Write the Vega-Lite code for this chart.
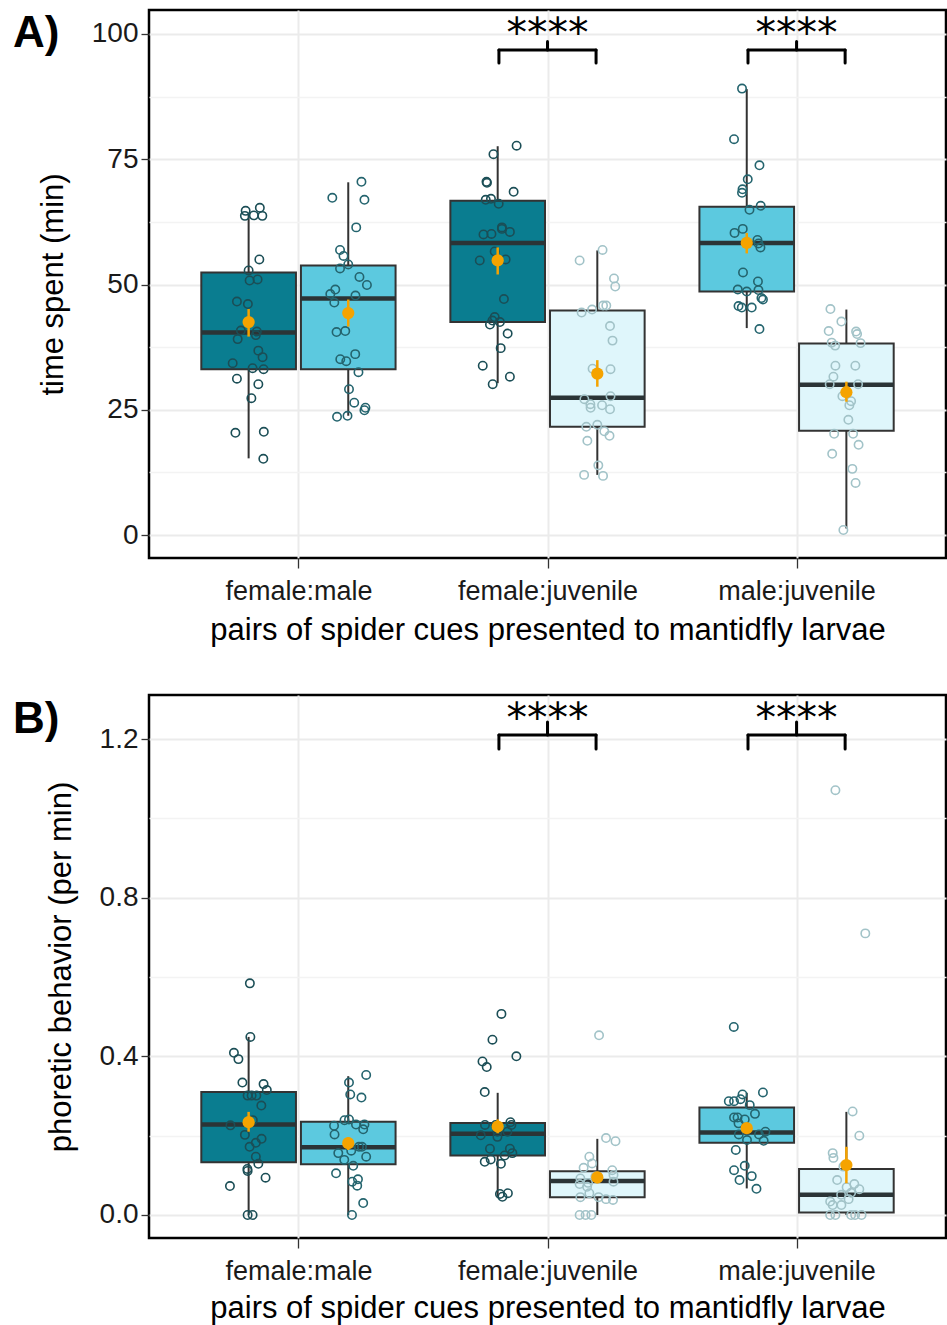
{
"$schema": "https://vega.github.io/schema/vega-lite/v6.json",
"padding": {"left": 11, "top": 8, "right": 0, "bottom": 0},
"spacing": 46,
"config": {
  "font": "Liberation Sans",
  "view": {"stroke": "#000000", "strokeWidth": 2.5},
  "axis": {"labelFont": "Liberation Sans", "labelFontSize": 27, "labelColor": "#1a1a1a", "labelLimit": 0, "titleFont": "Liberation Sans", "titleFontSize": 31, "titleFontWeight": "normal", "titleColor": "#000000", "tickColor": "#333333", "tickWidth": 1.3, "domain": false, "labelFlush": false, "gridColor": "#EBEBEB"}
},
"datasets": {
  "boxes": [
    {"panel":"A","pair":"female:male","cue":"female","side":"left","lo":15.3,"q1":33.1,"med":40.4,"q3":52.4,"hi":64.2},
    {"panel":"A","pair":"female:male","cue":"male","side":"right","lo":23.8,"q1":33.1,"med":47.2,"q3":53.8,"hi":70.4},
    {"panel":"A","pair":"female:juvenile","cue":"female","side":"left","lo":30.3,"q1":42.5,"med":58.3,"q3":66.7,"hi":77.6},
    {"panel":"A","pair":"female:juvenile","cue":"juvenile","side":"right","lo":12.0,"q1":21.6,"med":27.4,"q3":44.8,"hi":56.8},
    {"panel":"A","pair":"male:juvenile","cue":"male","side":"left","lo":41.3,"q1":48.6,"med":58.3,"q3":65.5,"hi":89.0},
    {"panel":"A","pair":"male:juvenile","cue":"juvenile","side":"right","lo":1.3,"q1":20.8,"med":30.0,"q3":38.2,"hi":45.0},
    {"panel":"B","pair":"female:male","cue":"female","side":"left","lo":0.0,"q1":0.133,"med":0.228,"q3":0.310,"hi":0.449},
    {"panel":"B","pair":"female:male","cue":"male","side":"right","lo":0.0,"q1":0.128,"med":0.171,"q3":0.235,"hi":0.350},
    {"panel":"B","pair":"female:juvenile","cue":"female","side":"left","lo":0.046,"q1":0.150,"med":0.205,"q3":0.232,"hi":0.308},
    {"panel":"B","pair":"female:juvenile","cue":"juvenile","side":"right","lo":0.0,"q1":0.045,"med":0.086,"q3":0.110,"hi":0.192},
    {"panel":"B","pair":"male:juvenile","cue":"male","side":"left","lo":0.067,"q1":0.182,"med":0.208,"q3":0.271,"hi":0.308},
    {"panel":"B","pair":"male:juvenile","cue":"juvenile","side":"right","lo":0.0,"q1":0.006,"med":0.051,"q3":0.116,"hi":0.260}
  ],
  "means": [
    {"panel":"A","pair":"female:male","cue":"female","side":"left","mean":42.5,"lo":39.6,"hi":45.1},
    {"panel":"A","pair":"female:male","cue":"male","side":"right","mean":44.3,"lo":41.6,"hi":47.0},
    {"panel":"A","pair":"female:juvenile","cue":"female","side":"left","mean":54.8,"lo":52.0,"hi":57.4},
    {"panel":"A","pair":"female:juvenile","cue":"juvenile","side":"right","mean":32.2,"lo":29.6,"hi":34.9},
    {"panel":"A","pair":"male:juvenile","cue":"male","side":"left","mean":58.3,"lo":56.2,"hi":60.3},
    {"panel":"A","pair":"male:juvenile","cue":"juvenile","side":"right","mean":28.5,"lo":26.6,"hi":30.6},
    {"panel":"B","pair":"female:male","cue":"female","side":"left","mean":0.234,"lo":0.210,"hi":0.260},
    {"panel":"B","pair":"female:male","cue":"male","side":"right","mean":0.181,"lo":0.164,"hi":0.196},
    {"panel":"B","pair":"female:juvenile","cue":"female","side":"left","mean":0.223,"lo":0.206,"hi":0.241},
    {"panel":"B","pair":"female:juvenile","cue":"juvenile","side":"right","mean":0.095,"lo":0.080,"hi":0.109},
    {"panel":"B","pair":"male:juvenile","cue":"male","side":"left","mean":0.219,"lo":0.206,"hi":0.231},
    {"panel":"B","pair":"male:juvenile","cue":"juvenile","side":"right","mean":0.126,"lo":0.080,"hi":0.172}
  ],
  "sig": [
    {"panel":"A","pair":"female:juvenile","label":"****","y_bar":96.8,"y_tip":94.2,"y_peak":98.5,"y_label":97.4},
    {"panel":"A","pair":"male:juvenile","label":"****","y_bar":96.8,"y_tip":94.2,"y_peak":98.5,"y_label":97.4},
    {"panel":"B","pair":"female:juvenile","label":"****","y_bar":1.210,"y_tip":1.175,"y_peak":1.243,"y_label":1.217},
    {"panel":"B","pair":"male:juvenile","label":"****","y_bar":1.210,"y_tip":1.175,"y_peak":1.243,"y_label":1.217}
  ],
  "tags": [
    {"panel":"A","label":"A)"},
    {"panel":"B","label":"B)"}
  ],
  "points": [
    {"panel":"A","pair":"female:male","cue":"female","side":"left","value":64.7,"jitter":-0.012},
    {"panel":"A","pair":"female:male","cue":"female","side":"left","value":63.7,"jitter":-0.015},
    {"panel":"A","pair":"female:male","cue":"female","side":"left","value":63.8,"jitter":0.021},
    {"panel":"A","pair":"female:male","cue":"female","side":"left","value":65.3,"jitter":0.045},
    {"panel":"A","pair":"female:male","cue":"female","side":"left","value":63.7,"jitter":0.055},
    {"panel":"A","pair":"female:male","cue":"female","side":"left","value":55.0,"jitter":0.043},
    {"panel":"A","pair":"female:male","cue":"female","side":"left","value":52.8,"jitter":0.0},
    {"panel":"A","pair":"female:male","cue":"female","side":"left","value":50.8,"jitter":0.004},
    {"panel":"A","pair":"female:male","cue":"female","side":"left","value":51.0,"jitter":0.036},
    {"panel":"A","pair":"female:male","cue":"female","side":"left","value":46.6,"jitter":-0.047},
    {"panel":"A","pair":"female:male","cue":"female","side":"left","value":46.1,"jitter":-0.003},
    {"panel":"A","pair":"female:male","cue":"female","side":"left","value":40.8,"jitter":-0.031},
    {"panel":"A","pair":"female:male","cue":"female","side":"left","value":39.1,"jitter":-0.044},
    {"panel":"A","pair":"female:male","cue":"female","side":"left","value":40.6,"jitter":0.033},
    {"panel":"A","pair":"female:male","cue":"female","side":"left","value":39.9,"jitter":0.029},
    {"panel":"A","pair":"female:male","cue":"female","side":"left","value":36.8,"jitter":0.039},
    {"panel":"A","pair":"female:male","cue":"female","side":"left","value":35.5,"jitter":0.056},
    {"panel":"A","pair":"female:male","cue":"female","side":"left","value":34.3,"jitter":-0.064},
    {"panel":"A","pair":"female:male","cue":"female","side":"left","value":33.3,"jitter":0.016},
    {"panel":"A","pair":"female:male","cue":"female","side":"left","value":33.1,"jitter":0.06},
    {"panel":"A","pair":"female:male","cue":"female","side":"left","value":31.2,"jitter":-0.047},
    {"panel":"A","pair":"female:male","cue":"female","side":"left","value":30.1,"jitter":0.039},
    {"panel":"A","pair":"female:male","cue":"female","side":"left","value":27.3,"jitter":0.011},
    {"panel":"A","pair":"female:male","cue":"female","side":"left","value":20.4,"jitter":-0.053},
    {"panel":"A","pair":"female:male","cue":"female","side":"left","value":20.6,"jitter":0.061},
    {"panel":"A","pair":"female:male","cue":"female","side":"left","value":15.2,"jitter":0.059},
    {"panel":"A","pair":"female:male","cue":"male","side":"right","value":70.5,"jitter":0.053},
    {"panel":"A","pair":"female:male","cue":"male","side":"right","value":67.3,"jitter":-0.064},
    {"panel":"A","pair":"female:male","cue":"male","side":"right","value":66.9,"jitter":0.065},
    {"panel":"A","pair":"female:male","cue":"male","side":"right","value":61.4,"jitter":0.032},
    {"panel":"A","pair":"female:male","cue":"male","side":"right","value":56.9,"jitter":-0.033},
    {"panel":"A","pair":"female:male","cue":"male","side":"right","value":55.7,"jitter":-0.019},
    {"panel":"A","pair":"female:male","cue":"male","side":"right","value":54.0,"jitter":0.0},
    {"panel":"A","pair":"female:male","cue":"male","side":"right","value":53.2,"jitter":-0.033},
    {"panel":"A","pair":"female:male","cue":"male","side":"right","value":51.5,"jitter":0.045},
    {"panel":"A","pair":"female:male","cue":"male","side":"right","value":49.9,"jitter":0.075},
    {"panel":"A","pair":"female:male","cue":"male","side":"right","value":49.0,"jitter":-0.052},
    {"panel":"A","pair":"female:male","cue":"male","side":"right","value":48.1,"jitter":-0.072},
    {"panel":"A","pair":"female:male","cue":"male","side":"right","value":46.4,"jitter":-0.056},
    {"panel":"A","pair":"female:male","cue":"male","side":"right","value":47.8,"jitter":0.029},
    {"panel":"A","pair":"female:male","cue":"male","side":"right","value":40.5,"jitter":-0.047},
    {"panel":"A","pair":"female:male","cue":"male","side":"right","value":40.7,"jitter":-0.012},
    {"panel":"A","pair":"female:male","cue":"male","side":"right","value":36.1,"jitter":0.028},
    {"panel":"A","pair":"female:male","cue":"male","side":"right","value":35.1,"jitter":-0.032},
    {"panel":"A","pair":"female:male","cue":"male","side":"right","value":34.7,"jitter":-0.008},
    {"panel":"A","pair":"female:male","cue":"male","side":"right","value":32.5,"jitter":0.041},
    {"panel":"A","pair":"female:male","cue":"male","side":"right","value":29.1,"jitter":0.003},
    {"panel":"A","pair":"female:male","cue":"male","side":"right","value":26.4,"jitter":0.024},
    {"panel":"A","pair":"female:male","cue":"male","side":"right","value":25.4,"jitter":0.069},
    {"panel":"A","pair":"female:male","cue":"male","side":"right","value":24.9,"jitter":0.065},
    {"panel":"A","pair":"female:male","cue":"male","side":"right","value":23.8,"jitter":-0.003},
    {"panel":"A","pair":"female:male","cue":"male","side":"right","value":23.6,"jitter":-0.045},
    {"panel":"A","pair":"female:juvenile","cue":"female","side":"left","value":77.7,"jitter":0.076},
    {"panel":"A","pair":"female:juvenile","cue":"female","side":"left","value":76.0,"jitter":-0.017},
    {"panel":"A","pair":"female:juvenile","cue":"female","side":"left","value":70.5,"jitter":-0.045},
    {"panel":"A","pair":"female:juvenile","cue":"female","side":"left","value":70.3,"jitter":-0.043},
    {"panel":"A","pair":"female:juvenile","cue":"female","side":"left","value":68.5,"jitter":0.064},
    {"panel":"A","pair":"female:juvenile","cue":"female","side":"left","value":66.9,"jitter":-0.048},
    {"panel":"A","pair":"female:juvenile","cue":"female","side":"left","value":67.1,"jitter":-0.027},
    {"panel":"A","pair":"female:juvenile","cue":"female","side":"left","value":66.1,"jitter":0.004},
    {"panel":"A","pair":"female:juvenile","cue":"female","side":"left","value":61.4,"jitter":0.017},
    {"panel":"A","pair":"female:juvenile","cue":"female","side":"left","value":61.1,"jitter":0.017},
    {"panel":"A","pair":"female:juvenile","cue":"female","side":"left","value":60.0,"jitter":-0.057},
    {"panel":"A","pair":"female:juvenile","cue":"female","side":"left","value":60.1,"jitter":-0.025},
    {"panel":"A","pair":"female:juvenile","cue":"female","side":"left","value":60.5,"jitter":0.049},
    {"panel":"A","pair":"female:juvenile","cue":"female","side":"left","value":56.6,"jitter":-0.012},
    {"panel":"A","pair":"female:juvenile","cue":"female","side":"left","value":54.8,"jitter":-0.072},
    {"panel":"A","pair":"female:juvenile","cue":"female","side":"left","value":55.0,"jitter":0.032},
    {"panel":"A","pair":"female:juvenile","cue":"female","side":"left","value":47.1,"jitter":0.025},
    {"panel":"A","pair":"female:juvenile","cue":"female","side":"left","value":43.5,"jitter":-0.012},
    {"panel":"A","pair":"female:juvenile","cue":"female","side":"left","value":42.8,"jitter":-0.021},
    {"panel":"A","pair":"female:juvenile","cue":"female","side":"left","value":42.0,"jitter":-0.031},
    {"panel":"A","pair":"female:juvenile","cue":"female","side":"left","value":42.5,"jitter":0.009},
    {"panel":"A","pair":"female:juvenile","cue":"female","side":"left","value":40.2,"jitter":0.04},
    {"panel":"A","pair":"female:juvenile","cue":"female","side":"left","value":37.3,"jitter":0.012},
    {"panel":"A","pair":"female:juvenile","cue":"female","side":"left","value":33.8,"jitter":-0.06},
    {"panel":"A","pair":"female:juvenile","cue":"female","side":"left","value":31.6,"jitter":0.049},
    {"panel":"A","pair":"female:juvenile","cue":"female","side":"left","value":30.1,"jitter":-0.02},
    {"panel":"A","pair":"female:juvenile","cue":"juvenile","side":"right","value":56.9,"jitter":0.021},
    {"panel":"A","pair":"female:juvenile","cue":"juvenile","side":"right","value":54.8,"jitter":-0.071},
    {"panel":"A","pair":"female:juvenile","cue":"juvenile","side":"right","value":51.2,"jitter":0.067},
    {"panel":"A","pair":"female:juvenile","cue":"juvenile","side":"right","value":49.6,"jitter":0.072},
    {"panel":"A","pair":"female:juvenile","cue":"juvenile","side":"right","value":45.8,"jitter":0.023},
    {"panel":"A","pair":"female:juvenile","cue":"juvenile","side":"right","value":45.8,"jitter":0.036},
    {"panel":"A","pair":"female:juvenile","cue":"juvenile","side":"right","value":45.0,"jitter":-0.021},
    {"panel":"A","pair":"female:juvenile","cue":"juvenile","side":"right","value":44.4,"jitter":-0.063},
    {"panel":"A","pair":"female:juvenile","cue":"juvenile","side":"right","value":41.7,"jitter":0.051},
    {"panel":"A","pair":"female:juvenile","cue":"juvenile","side":"right","value":38.8,"jitter":0.061},
    {"panel":"A","pair":"female:juvenile","cue":"juvenile","side":"right","value":33.2,"jitter":-0.019},
    {"panel":"A","pair":"female:juvenile","cue":"juvenile","side":"right","value":33.1,"jitter":0.053},
    {"panel":"A","pair":"female:juvenile","cue":"juvenile","side":"right","value":27.7,"jitter":0.053},
    {"panel":"A","pair":"female:juvenile","cue":"juvenile","side":"right","value":27.1,"jitter":-0.052},
    {"panel":"A","pair":"female:juvenile","cue":"juvenile","side":"right","value":26.1,"jitter":-0.028},
    {"panel":"A","pair":"female:juvenile","cue":"juvenile","side":"right","value":25.9,"jitter":0.019},
    {"panel":"A","pair":"female:juvenile","cue":"juvenile","side":"right","value":25.1,"jitter":0.051},
    {"panel":"A","pair":"female:juvenile","cue":"juvenile","side":"right","value":25.4,"jitter":-0.027},
    {"panel":"A","pair":"female:juvenile","cue":"juvenile","side":"right","value":21.6,"jitter":-0.044},
    {"panel":"A","pair":"female:juvenile","cue":"juvenile","side":"right","value":22.0,"jitter":0.0},
    {"panel":"A","pair":"female:juvenile","cue":"juvenile","side":"right","value":20.7,"jitter":0.028},
    {"panel":"A","pair":"female:juvenile","cue":"juvenile","side":"right","value":19.8,"jitter":0.049},
    {"panel":"A","pair":"female:juvenile","cue":"juvenile","side":"right","value":18.8,"jitter":-0.04},
    {"panel":"A","pair":"female:juvenile","cue":"juvenile","side":"right","value":13.9,"jitter":0.004},
    {"panel":"A","pair":"female:juvenile","cue":"juvenile","side":"right","value":12.0,"jitter":-0.053},
    {"panel":"A","pair":"female:juvenile","cue":"juvenile","side":"right","value":11.8,"jitter":0.023},
    {"panel":"A","pair":"male:juvenile","cue":"male","side":"left","value":89.1,"jitter":-0.019},
    {"panel":"A","pair":"male:juvenile","cue":"male","side":"left","value":79.0,"jitter":-0.051},
    {"panel":"A","pair":"male:juvenile","cue":"male","side":"left","value":73.8,"jitter":0.051},
    {"panel":"A","pair":"male:juvenile","cue":"male","side":"left","value":71.0,"jitter":0.004},
    {"panel":"A","pair":"male:juvenile","cue":"male","side":"left","value":69.0,"jitter":-0.017},
    {"panel":"A","pair":"male:juvenile","cue":"male","side":"left","value":68.3,"jitter":-0.019},
    {"panel":"A","pair":"male:juvenile","cue":"male","side":"left","value":65.7,"jitter":0.056},
    {"panel":"A","pair":"male:juvenile","cue":"male","side":"left","value":64.9,"jitter":0.011},
    {"panel":"A","pair":"male:juvenile","cue":"male","side":"left","value":61.1,"jitter":-0.016},
    {"panel":"A","pair":"male:juvenile","cue":"male","side":"left","value":60.3,"jitter":-0.049},
    {"panel":"A","pair":"male:juvenile","cue":"male","side":"left","value":58.9,"jitter":0.043},
    {"panel":"A","pair":"male:juvenile","cue":"male","side":"left","value":58.2,"jitter":0.047},
    {"panel":"A","pair":"male:juvenile","cue":"male","side":"left","value":57.4,"jitter":0.055},
    {"panel":"A","pair":"male:juvenile","cue":"male","side":"left","value":52.4,"jitter":-0.015},
    {"panel":"A","pair":"male:juvenile","cue":"male","side":"left","value":50.6,"jitter":0.045},
    {"panel":"A","pair":"male:juvenile","cue":"male","side":"left","value":49.0,"jitter":-0.036},
    {"panel":"A","pair":"male:juvenile","cue":"male","side":"left","value":48.6,"jitter":0.0},
    {"panel":"A","pair":"male:juvenile","cue":"male","side":"left","value":48.9,"jitter":0.047},
    {"panel":"A","pair":"male:juvenile","cue":"male","side":"left","value":47.3,"jitter":0.059},
    {"panel":"A","pair":"male:juvenile","cue":"male","side":"left","value":47.0,"jitter":0.065},
    {"panel":"A","pair":"male:juvenile","cue":"male","side":"left","value":45.7,"jitter":-0.033},
    {"panel":"A","pair":"male:juvenile","cue":"male","side":"left","value":45.4,"jitter":-0.02},
    {"panel":"A","pair":"male:juvenile","cue":"male","side":"left","value":45.4,"jitter":0.02},
    {"panel":"A","pair":"male:juvenile","cue":"male","side":"left","value":41.1,"jitter":0.051},
    {"panel":"A","pair":"male:juvenile","cue":"juvenile","side":"right","value":45.1,"jitter":-0.064},
    {"panel":"A","pair":"male:juvenile","cue":"juvenile","side":"right","value":42.6,"jitter":-0.02},
    {"panel":"A","pair":"male:juvenile","cue":"juvenile","side":"right","value":40.7,"jitter":-0.071},
    {"panel":"A","pair":"male:juvenile","cue":"juvenile","side":"right","value":40.6,"jitter":0.039},
    {"panel":"A","pair":"male:juvenile","cue":"juvenile","side":"right","value":40.1,"jitter":0.043},
    {"panel":"A","pair":"male:juvenile","cue":"juvenile","side":"right","value":38.4,"jitter":-0.059},
    {"panel":"A","pair":"male:juvenile","cue":"juvenile","side":"right","value":37.8,"jitter":-0.045},
    {"panel":"A","pair":"male:juvenile","cue":"juvenile","side":"right","value":38.3,"jitter":0.057},
    {"panel":"A","pair":"male:juvenile","cue":"juvenile","side":"right","value":33.8,"jitter":-0.044},
    {"panel":"A","pair":"male:juvenile","cue":"juvenile","side":"right","value":33.8,"jitter":0.036},
    {"panel":"A","pair":"male:juvenile","cue":"juvenile","side":"right","value":31.6,"jitter":-0.052},
    {"panel":"A","pair":"male:juvenile","cue":"juvenile","side":"right","value":30.1,"jitter":-0.067},
    {"panel":"A","pair":"male:juvenile","cue":"juvenile","side":"right","value":30.1,"jitter":0.047},
    {"panel":"A","pair":"male:juvenile","cue":"juvenile","side":"right","value":27.7,"jitter":-0.016},
    {"panel":"A","pair":"male:juvenile","cue":"juvenile","side":"right","value":26.7,"jitter":0.019},
    {"panel":"A","pair":"male:juvenile","cue":"juvenile","side":"right","value":25.9,"jitter":0.012},
    {"panel":"A","pair":"male:juvenile","cue":"juvenile","side":"right","value":23.0,"jitter":0.008},
    {"panel":"A","pair":"male:juvenile","cue":"juvenile","side":"right","value":20.2,"jitter":-0.049},
    {"panel":"A","pair":"male:juvenile","cue":"juvenile","side":"right","value":20.2,"jitter":0.027},
    {"panel":"A","pair":"male:juvenile","cue":"juvenile","side":"right","value":18.0,"jitter":0.049},
    {"panel":"A","pair":"male:juvenile","cue":"juvenile","side":"right","value":16.2,"jitter":-0.057},
    {"panel":"A","pair":"male:juvenile","cue":"juvenile","side":"right","value":13.2,"jitter":0.024},
    {"panel":"A","pair":"male:juvenile","cue":"juvenile","side":"right","value":10.4,"jitter":0.037},
    {"panel":"A","pair":"male:juvenile","cue":"juvenile","side":"right","value":1.0,"jitter":-0.012},
    {"panel":"B","pair":"female:male","cue":"female","side":"left","value":0.584,"jitter":0.005},
    {"panel":"B","pair":"female:male","cue":"female","side":"left","value":0.449,"jitter":0.007},
    {"panel":"B","pair":"female:male","cue":"female","side":"left","value":0.409,"jitter":-0.059},
    {"panel":"B","pair":"female:male","cue":"female","side":"left","value":0.393,"jitter":-0.041},
    {"panel":"B","pair":"female:male","cue":"female","side":"left","value":0.334,"jitter":-0.025},
    {"panel":"B","pair":"female:male","cue":"female","side":"left","value":0.330,"jitter":0.06},
    {"panel":"B","pair":"female:male","cue":"female","side":"left","value":0.315,"jitter":0.073},
    {"panel":"B","pair":"female:male","cue":"female","side":"left","value":0.301,"jitter":-0.004},
    {"panel":"B","pair":"female:male","cue":"female","side":"left","value":0.301,"jitter":0.012},
    {"panel":"B","pair":"female:male","cue":"female","side":"left","value":0.301,"jitter":0.031},
    {"panel":"B","pair":"female:male","cue":"female","side":"left","value":0.276,"jitter":0.051},
    {"panel":"B","pair":"female:male","cue":"female","side":"left","value":0.226,"jitter":-0.073},
    {"panel":"B","pair":"female:male","cue":"female","side":"left","value":0.239,"jitter":0.017},
    {"panel":"B","pair":"female:male","cue":"female","side":"left","value":0.202,"jitter":-0.015},
    {"panel":"B","pair":"female:male","cue":"female","side":"left","value":0.192,"jitter":0.052},
    {"panel":"B","pair":"female:male","cue":"female","side":"left","value":0.182,"jitter":0.029},
    {"panel":"B","pair":"female:male","cue":"female","side":"left","value":0.172,"jitter":0.004},
    {"panel":"B","pair":"female:male","cue":"female","side":"left","value":0.147,"jitter":0.029},
    {"panel":"B","pair":"female:male","cue":"female","side":"left","value":0.129,"jitter":0.039},
    {"panel":"B","pair":"female:male","cue":"female","side":"left","value":0.116,"jitter":-0.005},
    {"panel":"B","pair":"female:male","cue":"female","side":"left","value":0.111,"jitter":-0.004},
    {"panel":"B","pair":"female:male","cue":"female","side":"left","value":0.094,"jitter":0.068},
    {"panel":"B","pair":"female:male","cue":"female","side":"left","value":0.073,"jitter":-0.075},
    {"panel":"B","pair":"female:male","cue":"female","side":"left","value":0.0,"jitter":-0.004},
    {"panel":"B","pair":"female:male","cue":"female","side":"left","value":0.0,"jitter":0.016},
    {"panel":"B","pair":"female:male","cue":"male","side":"right","value":0.353,"jitter":0.072},
    {"panel":"B","pair":"female:male","cue":"male","side":"right","value":0.334,"jitter":0.003},
    {"panel":"B","pair":"female:male","cue":"male","side":"right","value":0.304,"jitter":0.008},
    {"panel":"B","pair":"female:male","cue":"male","side":"right","value":0.296,"jitter":0.053},
    {"panel":"B","pair":"female:male","cue":"male","side":"right","value":0.239,"jitter":-0.015},
    {"panel":"B","pair":"female:male","cue":"male","side":"right","value":0.241,"jitter":0.003},
    {"panel":"B","pair":"female:male","cue":"male","side":"right","value":0.225,"jitter":-0.057},
    {"panel":"B","pair":"female:male","cue":"male","side":"right","value":0.228,"jitter":0.031},
    {"panel":"B","pair":"female:male","cue":"male","side":"right","value":0.228,"jitter":0.065},
    {"panel":"B","pair":"female:male","cue":"male","side":"right","value":0.216,"jitter":0.06},
    {"panel":"B","pair":"female:male","cue":"male","side":"right","value":0.203,"jitter":-0.055},
    {"panel":"B","pair":"female:male","cue":"male","side":"right","value":0.172,"jitter":0.043},
    {"panel":"B","pair":"female:male","cue":"male","side":"right","value":0.172,"jitter":0.055},
    {"panel":"B","pair":"female:male","cue":"male","side":"right","value":0.162,"jitter":0.012},
    {"panel":"B","pair":"female:male","cue":"male","side":"right","value":0.156,"jitter":-0.04},
    {"panel":"B","pair":"female:male","cue":"male","side":"right","value":0.147,"jitter":0.072},
    {"panel":"B","pair":"female:male","cue":"male","side":"right","value":0.139,"jitter":-0.016},
    {"panel":"B","pair":"female:male","cue":"male","side":"right","value":0.124,"jitter":0.02},
    {"panel":"B","pair":"female:male","cue":"male","side":"right","value":0.105,"jitter":-0.049},
    {"panel":"B","pair":"female:male","cue":"male","side":"right","value":0.090,"jitter":0.039},
    {"panel":"B","pair":"female:male","cue":"male","side":"right","value":0.084,"jitter":0.016},
    {"panel":"B","pair":"female:male","cue":"male","side":"right","value":0.074,"jitter":0.036},
    {"panel":"B","pair":"female:male","cue":"male","side":"right","value":0.030,"jitter":0.06},
    {"panel":"B","pair":"female:male","cue":"male","side":"right","value":0.0,"jitter":0.015},
    {"panel":"B","pair":"female:juvenile","cue":"female","side":"left","value":0.507,"jitter":0.015},
    {"panel":"B","pair":"female:juvenile","cue":"female","side":"left","value":0.442,"jitter":-0.021},
    {"panel":"B","pair":"female:juvenile","cue":"female","side":"left","value":0.400,"jitter":0.075},
    {"panel":"B","pair":"female:juvenile","cue":"female","side":"left","value":0.387,"jitter":-0.061},
    {"panel":"B","pair":"female:juvenile","cue":"female","side":"left","value":0.373,"jitter":-0.044},
    {"panel":"B","pair":"female:juvenile","cue":"female","side":"left","value":0.310,"jitter":-0.052},
    {"panel":"B","pair":"female:juvenile","cue":"female","side":"left","value":0.227,"jitter":-0.051},
    {"panel":"B","pair":"female:juvenile","cue":"female","side":"left","value":0.227,"jitter":-0.008},
    {"panel":"B","pair":"female:juvenile","cue":"female","side":"left","value":0.234,"jitter":0.051},
    {"panel":"B","pair":"female:juvenile","cue":"female","side":"left","value":0.227,"jitter":0.055},
    {"panel":"B","pair":"female:juvenile","cue":"female","side":"left","value":0.210,"jitter":-0.001},
    {"panel":"B","pair":"female:juvenile","cue":"female","side":"left","value":0.201,"jitter":-0.068},
    {"panel":"B","pair":"female:juvenile","cue":"female","side":"left","value":0.210,"jitter":0.039},
    {"panel":"B","pair":"female:juvenile","cue":"female","side":"left","value":0.197,"jitter":-0.001},
    {"panel":"B","pair":"female:juvenile","cue":"female","side":"left","value":0.167,"jitter":-0.031},
    {"panel":"B","pair":"female:juvenile","cue":"female","side":"left","value":0.167,"jitter":0.049},
    {"panel":"B","pair":"female:juvenile","cue":"female","side":"left","value":0.156,"jitter":0.059},
    {"panel":"B","pair":"female:juvenile","cue":"female","side":"left","value":0.150,"jitter":0.028},
    {"panel":"B","pair":"female:juvenile","cue":"female","side":"left","value":0.140,"jitter":-0.028},
    {"panel":"B","pair":"female:juvenile","cue":"female","side":"left","value":0.134,"jitter":-0.052},
    {"panel":"B","pair":"female:juvenile","cue":"female","side":"left","value":0.129,"jitter":0.013},
    {"panel":"B","pair":"female:juvenile","cue":"female","side":"left","value":0.053,"jitter":0.009},
    {"panel":"B","pair":"female:juvenile","cue":"female","side":"left","value":0.046,"jitter":0.019},
    {"panel":"B","pair":"female:juvenile","cue":"female","side":"left","value":0.055,"jitter":0.041},
    {"panel":"B","pair":"female:juvenile","cue":"juvenile","side":"right","value":0.453,"jitter":0.007},
    {"panel":"B","pair":"female:juvenile","cue":"juvenile","side":"right","value":0.194,"jitter":0.035},
    {"panel":"B","pair":"female:juvenile","cue":"juvenile","side":"right","value":0.186,"jitter":0.073},
    {"panel":"B","pair":"female:juvenile","cue":"juvenile","side":"right","value":0.147,"jitter":-0.032},
    {"panel":"B","pair":"female:juvenile","cue":"juvenile","side":"right","value":0.130,"jitter":-0.021},
    {"panel":"B","pair":"female:juvenile","cue":"juvenile","side":"right","value":0.119,"jitter":-0.055},
    {"panel":"B","pair":"female:juvenile","cue":"juvenile","side":"right","value":0.113,"jitter":0.06},
    {"panel":"B","pair":"female:juvenile","cue":"juvenile","side":"right","value":0.101,"jitter":0.065},
    {"panel":"B","pair":"female:juvenile","cue":"juvenile","side":"right","value":0.092,"jitter":-0.068},
    {"panel":"B","pair":"female:juvenile","cue":"juvenile","side":"right","value":0.097,"jitter":-0.008},
    {"panel":"B","pair":"female:juvenile","cue":"juvenile","side":"right","value":0.081,"jitter":-0.037},
    {"panel":"B","pair":"female:juvenile","cue":"juvenile","side":"right","value":0.084,"jitter":0.065},
    {"panel":"B","pair":"female:juvenile","cue":"juvenile","side":"right","value":0.078,"jitter":-0.071},
    {"panel":"B","pair":"female:juvenile","cue":"juvenile","side":"right","value":0.071,"jitter":-0.041},
    {"panel":"B","pair":"female:juvenile","cue":"juvenile","side":"right","value":0.055,"jitter":-0.032},
    {"panel":"B","pair":"female:juvenile","cue":"juvenile","side":"right","value":0.045,"jitter":-0.068},
    {"panel":"B","pair":"female:juvenile","cue":"juvenile","side":"right","value":0.045,"jitter":0.005},
    {"panel":"B","pair":"female:juvenile","cue":"juvenile","side":"right","value":0.040,"jitter":0.035},
    {"panel":"B","pair":"female:juvenile","cue":"juvenile","side":"right","value":0.038,"jitter":0.063},
    {"panel":"B","pair":"female:juvenile","cue":"juvenile","side":"right","value":0.0,"jitter":-0.071},
    {"panel":"B","pair":"female:juvenile","cue":"juvenile","side":"right","value":0.0,"jitter":-0.047},
    {"panel":"B","pair":"female:juvenile","cue":"juvenile","side":"right","value":0.0,"jitter":-0.024},
    {"panel":"B","pair":"male:juvenile","cue":"male","side":"left","value":0.474,"jitter":-0.052},
    {"panel":"B","pair":"male:juvenile","cue":"male","side":"left","value":0.309,"jitter":0.065},
    {"panel":"B","pair":"male:juvenile","cue":"male","side":"left","value":0.304,"jitter":-0.017},
    {"panel":"B","pair":"male:juvenile","cue":"male","side":"left","value":0.287,"jitter":-0.072},
    {"panel":"B","pair":"male:juvenile","cue":"male","side":"left","value":0.287,"jitter":-0.051},
    {"panel":"B","pair":"male:juvenile","cue":"male","side":"left","value":0.292,"jitter":-0.025},
    {"panel":"B","pair":"male:juvenile","cue":"male","side":"left","value":0.277,"jitter":0.012},
    {"panel":"B","pair":"male:juvenile","cue":"male","side":"left","value":0.255,"jitter":0.033},
    {"panel":"B","pair":"male:juvenile","cue":"male","side":"left","value":0.246,"jitter":-0.051},
    {"panel":"B","pair":"male:juvenile","cue":"male","side":"left","value":0.246,"jitter":-0.037},
    {"panel":"B","pair":"male:juvenile","cue":"male","side":"left","value":0.241,"jitter":-0.008},
    {"panel":"B","pair":"male:juvenile","cue":"male","side":"left","value":0.231,"jitter":-0.033},
    {"panel":"B","pair":"male:juvenile","cue":"male","side":"left","value":0.210,"jitter":0.075},
    {"panel":"B","pair":"male:juvenile","cue":"male","side":"left","value":0.203,"jitter":-0.032},
    {"panel":"B","pair":"male:juvenile","cue":"male","side":"left","value":0.203,"jitter":0.049},
    {"panel":"B","pair":"male:juvenile","cue":"male","side":"left","value":0.189,"jitter":0.001},
    {"panel":"B","pair":"male:juvenile","cue":"male","side":"left","value":0.187,"jitter":0.068},
    {"panel":"B","pair":"male:juvenile","cue":"male","side":"left","value":0.164,"jitter":-0.044},
    {"panel":"B","pair":"male:juvenile","cue":"male","side":"left","value":0.124,"jitter":-0.008},
    {"panel":"B","pair":"male:juvenile","cue":"male","side":"left","value":0.113,"jitter":-0.051},
    {"panel":"B","pair":"male:juvenile","cue":"male","side":"left","value":0.098,"jitter":0.02},
    {"panel":"B","pair":"male:juvenile","cue":"male","side":"left","value":0.088,"jitter":-0.029},
    {"panel":"B","pair":"male:juvenile","cue":"male","side":"left","value":0.066,"jitter":0.039},
    {"panel":"B","pair":"male:juvenile","cue":"juvenile","side":"right","value":1.071,"jitter":-0.044},
    {"panel":"B","pair":"male:juvenile","cue":"juvenile","side":"right","value":0.710,"jitter":0.076},
    {"panel":"B","pair":"male:juvenile","cue":"juvenile","side":"right","value":0.261,"jitter":0.025},
    {"panel":"B","pair":"male:juvenile","cue":"juvenile","side":"right","value":0.200,"jitter":0.052},
    {"panel":"B","pair":"male:juvenile","cue":"juvenile","side":"right","value":0.156,"jitter":-0.055},
    {"panel":"B","pair":"male:juvenile","cue":"juvenile","side":"right","value":0.144,"jitter":-0.052},
    {"panel":"B","pair":"male:juvenile","cue":"juvenile","side":"right","value":0.122,"jitter":-0.012},
    {"panel":"B","pair":"male:juvenile","cue":"juvenile","side":"right","value":0.088,"jitter":-0.037},
    {"panel":"B","pair":"male:juvenile","cue":"juvenile","side":"right","value":0.078,"jitter":0.032},
    {"panel":"B","pair":"male:juvenile","cue":"juvenile","side":"right","value":0.065,"jitter":0.052},
    {"panel":"B","pair":"male:juvenile","cue":"juvenile","side":"right","value":0.070,"jitter":0.001},
    {"panel":"B","pair":"male:juvenile","cue":"juvenile","side":"right","value":0.056,"jitter":0.019},
    {"panel":"B","pair":"male:juvenile","cue":"juvenile","side":"right","value":0.051,"jitter":-0.021},
    {"panel":"B","pair":"male:juvenile","cue":"juvenile","side":"right","value":0.040,"jitter":0.009},
    {"panel":"B","pair":"male:juvenile","cue":"juvenile","side":"right","value":0.034,"jitter":-0.065},
    {"panel":"B","pair":"male:juvenile","cue":"juvenile","side":"right","value":0.025,"jitter":-0.055},
    {"panel":"B","pair":"male:juvenile","cue":"juvenile","side":"right","value":0.025,"jitter":-0.02},
    {"panel":"B","pair":"male:juvenile","cue":"juvenile","side":"right","value":0.0,"jitter":-0.065},
    {"panel":"B","pair":"male:juvenile","cue":"juvenile","side":"right","value":0.0,"jitter":-0.044},
    {"panel":"B","pair":"male:juvenile","cue":"juvenile","side":"right","value":0.0,"jitter":0.019},
    {"panel":"B","pair":"male:juvenile","cue":"juvenile","side":"right","value":0.0,"jitter":0.035},
    {"panel":"B","pair":"male:juvenile","cue":"juvenile","side":"right","value":0.0,"jitter":0.061}
  ]
},
"vconcat": [
  {
    "width": 797, "height": 548,
    "encoding": {
      "x": {"field": "x", "type": "quantitative", "scale": {"domain": [0.4, 3.6], "nice": false, "zero": false},
            "axis": {"values": [1, 2, 3], "labelExpr": "datum.value === 1 ? 'female:male' : datum.value === 2 ? 'female:juvenile' : 'male:juvenile'", "title": "pairs of spider cues presented to mantidfly larvae", "grid": true, "gridColor": "#EBEBEB", "gridWidth": 2, "tickSize": 10, "labelPadding": 10, "titlePadding": 11}},
      "y": {"field": "y", "type": "quantitative", "scale": {"domain": [-4.59, 104.79], "nice": false, "zero": false},
            "axis": {"values": [0, 12.5, 25, 37.5, 50, 62.5, 75, 87.5, 100], "labelExpr": "datum.value % 25 === 0 ? datum.label : ''", "title": "time spent (min)", "grid": true, "labelFontSize": 28,
                     "gridColor": {"condition": {"test": "datum.value % 25 === 0", "value": "#EBEBEB"}, "value": "#F3F3F3"},
                     "gridWidth": {"condition": {"test": "datum.value % 25 === 0", "value": 2}, "value": 1.5},
                     "tickColor": {"condition": {"test": "datum.value % 25 === 0", "value": "#333333"}, "value": "rgba(0,0,0,0)"},
                     "tickSize": 8, "labelPadding": 3, "titlePadding": 22}}
    },
    "layer": [
      {
        "data": {"name": "boxes"},
        "transform": [{"filter": "datum.panel === 'A'"}, {"calculate": "indexof(['female:male','female:juvenile','male:juvenile'], datum.pair) + 1 + (datum.side === 'left' ? -0.2 : 0.2)", "as": "x"}, {"calculate": "datum.lo", "as": "y"}],
        "mark": {"type": "rule", "color": "#333333", "strokeWidth": 2},
        "encoding": {"y2": {"field": "q1"}}
      },
      {
        "data": {"name": "boxes"},
        "transform": [{"filter": "datum.panel === 'A'"}, {"calculate": "indexof(['female:male','female:juvenile','male:juvenile'], datum.pair) + 1 + (datum.side === 'left' ? -0.2 : 0.2)", "as": "x"}, {"calculate": "datum.q3", "as": "y"}],
        "mark": {"type": "rule", "color": "#333333", "strokeWidth": 2},
        "encoding": {"y2": {"field": "hi"}}
      },
      {
        "data": {"name": "boxes"},
        "transform": [{"filter": "datum.panel === 'A'"}, {"calculate": "indexof(['female:male','female:juvenile','male:juvenile'], datum.pair) + 1 + (datum.side === 'left' ? -0.2 : 0.2)", "as": "xc"}, {"calculate": "datum.xc - 0.19", "as": "x"}, {"calculate": "datum.xc + 0.19", "as": "xr"}, {"calculate": "datum.q1", "as": "y"}],
        "mark": {"type": "rect", "stroke": "#333333", "strokeWidth": 2},
        "encoding": {
          "x2": {"field": "xr"},
          "y2": {"field": "q3"},
          "fill": {"field": "cue", "type": "nominal", "scale": {"domain": ["female", "male", "juvenile"], "range": ["#0A7D90", "#5CC9DF", "#DFF6FB"]}, "legend": null}
        }
      },
      {
        "data": {"name": "boxes"},
        "transform": [{"filter": "datum.panel === 'A'"}, {"calculate": "indexof(['female:male','female:juvenile','male:juvenile'], datum.pair) + 1 + (datum.side === 'left' ? -0.2 : 0.2)", "as": "xc"}, {"calculate": "datum.xc - 0.19", "as": "x"}, {"calculate": "datum.xc + 0.19", "as": "xr"}, {"calculate": "datum.med", "as": "y"}],
        "mark": {"type": "rule", "color": "#2B3436", "strokeWidth": 4.5},
        "encoding": {"x2": {"field": "xr"}}
      },
      {
        "data": {"name": "points"},
        "transform": [{"filter": "datum.panel === 'A'"}, {"calculate": "indexof(['female:male','female:juvenile','male:juvenile'], datum.pair) + 1 + (datum.side === 'left' ? -0.2 : 0.2) + datum.jitter", "as": "x"}, {"calculate": "datum.value", "as": "y"}],
        "mark": {"type": "point", "shape": "circle", "filled": false, "strokeWidth": 1.6, "size": 70, "opacity": 1},
        "encoding": {
          "stroke": {"field": "cue", "type": "nominal", "scale": {"domain": ["female", "male", "juvenile"], "range": ["#1B4E56", "#24646E", "#A2C3C8"]}, "legend": null}
        }
      },
      {
        "data": {"name": "means"},
        "transform": [{"filter": "datum.panel === 'A'"}, {"calculate": "indexof(['female:male','female:juvenile','male:juvenile'], datum.pair) + 1 + (datum.side === 'left' ? -0.2 : 0.2)", "as": "x"}, {"calculate": "datum.lo", "as": "y"}],
        "mark": {"type": "rule", "color": "#F5A300", "strokeWidth": 2.5},
        "encoding": {"y2": {"field": "hi"}}
      },
      {
        "data": {"name": "means"},
        "transform": [{"filter": "datum.panel === 'A'"}, {"calculate": "indexof(['female:male','female:juvenile','male:juvenile'], datum.pair) + 1 + (datum.side === 'left' ? -0.2 : 0.2)", "as": "x"}, {"calculate": "datum.mean", "as": "y"}],
        "mark": {"type": "point", "shape": "circle", "filled": true, "color": "#F5A300", "size": 150, "opacity": 1},
        "encoding": {}
      },
      {
        "data": {"name": "sig"},
        "transform": [{"filter": "datum.panel === 'A'"}, {"calculate": "indexof(['female:male','female:juvenile','male:juvenile'], datum.pair) + 1", "as": "xc"}, {"calculate": "datum.xc - 0.195", "as": "x"}, {"calculate": "datum.xc + 0.195", "as": "xr"}, {"calculate": "datum.y_bar", "as": "y"}],
        "mark": {"type": "rule", "color": "#000000", "strokeWidth": 3, "strokeCap": "round"},
        "encoding": {"x2": {"field": "xr"}}
      },
      {
        "data": {"name": "sig"},
        "transform": [{"filter": "datum.panel === 'A'"}, {"calculate": "indexof(['female:male','female:juvenile','male:juvenile'], datum.pair) + 1 - 0.195", "as": "x"}, {"calculate": "datum.y_tip", "as": "y"}],
        "mark": {"type": "rule", "color": "#000000", "strokeWidth": 3, "strokeCap": "round"},
        "encoding": {"y2": {"field": "y_bar"}}
      },
      {
        "data": {"name": "sig"},
        "transform": [{"filter": "datum.panel === 'A'"}, {"calculate": "indexof(['female:male','female:juvenile','male:juvenile'], datum.pair) + 1 + 0.195", "as": "x"}, {"calculate": "datum.y_tip", "as": "y"}],
        "mark": {"type": "rule", "color": "#000000", "strokeWidth": 3, "strokeCap": "round"},
        "encoding": {"y2": {"field": "y_bar"}}
      },
      {
        "data": {"name": "sig"},
        "transform": [{"filter": "datum.panel === 'A'"}, {"calculate": "indexof(['female:male','female:juvenile','male:juvenile'], datum.pair) + 1", "as": "x"}, {"calculate": "datum.y_bar", "as": "y"}],
        "mark": {"type": "rule", "color": "#000000", "strokeWidth": 3, "strokeCap": "round"},
        "encoding": {"y2": {"field": "y_peak"}}
      },
      {
        "data": {"name": "sig"},
        "transform": [{"filter": "datum.panel === 'A'"}, {"calculate": "indexof(['female:male','female:juvenile','male:juvenile'], datum.pair) + 1", "as": "x"}, {"calculate": "datum.y_label", "as": "y"}],
        "mark": {"type": "text", "font": "DejaVu Sans", "fontSize": 41, "align": "center", "baseline": "alphabetic", "color": "#000000"},
        "encoding": {"text": {"field": "label"}}
      },
      {
        "data": {"name": "tags"},
        "transform": [{"filter": "datum.panel === 'A'"}, {"calculate": "-0.146", "as": "x"}, {"calculate": "97.4", "as": "y"}],
        "mark": {"type": "text", "font": "Liberation Sans", "fontSize": 44, "fontWeight": "bold", "align": "left", "baseline": "alphabetic", "fill": "#000000", "clip": false},
        "encoding": {"text": {"field": "label", "type": "nominal"}}
      }
    ]
  },
  {
    "width": 797, "height": 543,
    "encoding": {
      "x": {"field": "x", "type": "quantitative", "scale": {"domain": [0.4, 3.6], "nice": false, "zero": false},
            "axis": {"values": [1, 2, 3], "labelExpr": "datum.value === 1 ? 'female:male' : datum.value === 2 ? 'female:juvenile' : 'male:juvenile'", "title": "pairs of spider cues presented to mantidfly larvae", "grid": true, "gridColor": "#EBEBEB", "gridWidth": 2, "tickSize": 10, "labelPadding": 10, "titlePadding": 9}},
      "y": {"field": "y", "type": "quantitative", "scale": {"domain": [-0.058, 1.311], "nice": false, "zero": false},
            "axis": {"values": [0, 0.2, 0.4, 0.6, 0.8, 1.0, 1.2], "labelExpr": "round(datum.value * 10) % 4 === 0 ? format(datum.value, '.1f') : ''", "title": "phoretic behavior (per min)", "grid": true, "labelFontSize": 28,
                     "gridColor": {"condition": {"test": "round(datum.value * 10) % 4 === 0", "value": "#EBEBEB"}, "value": "#F3F3F3"},
                     "gridWidth": {"condition": {"test": "round(datum.value * 10) % 4 === 0", "value": 2}, "value": 1.5},
                     "tickColor": {"condition": {"test": "round(datum.value * 10) % 4 === 0", "value": "#333333"}, "value": "rgba(0,0,0,0)"},
                     "tickSize": 8, "labelPadding": 3, "titlePadding": 22}}
    },
    "layer": [
      {
        "data": {"name": "boxes"},
        "transform": [{"filter": "datum.panel === 'B'"}, {"calculate": "indexof(['female:male','female:juvenile','male:juvenile'], datum.pair) + 1 + (datum.side === 'left' ? -0.2 : 0.2)", "as": "x"}, {"calculate": "datum.lo", "as": "y"}],
        "mark": {"type": "rule", "color": "#333333", "strokeWidth": 2},
        "encoding": {"y2": {"field": "q1"}}
      },
      {
        "data": {"name": "boxes"},
        "transform": [{"filter": "datum.panel === 'B'"}, {"calculate": "indexof(['female:male','female:juvenile','male:juvenile'], datum.pair) + 1 + (datum.side === 'left' ? -0.2 : 0.2)", "as": "x"}, {"calculate": "datum.q3", "as": "y"}],
        "mark": {"type": "rule", "color": "#333333", "strokeWidth": 2},
        "encoding": {"y2": {"field": "hi"}}
      },
      {
        "data": {"name": "boxes"},
        "transform": [{"filter": "datum.panel === 'B'"}, {"calculate": "indexof(['female:male','female:juvenile','male:juvenile'], datum.pair) + 1 + (datum.side === 'left' ? -0.2 : 0.2)", "as": "xc"}, {"calculate": "datum.xc - 0.19", "as": "x"}, {"calculate": "datum.xc + 0.19", "as": "xr"}, {"calculate": "datum.q1", "as": "y"}],
        "mark": {"type": "rect", "stroke": "#333333", "strokeWidth": 2},
        "encoding": {
          "x2": {"field": "xr"},
          "y2": {"field": "q3"},
          "fill": {"field": "cue", "type": "nominal", "scale": {"domain": ["female", "male", "juvenile"], "range": ["#0A7D90", "#5CC9DF", "#DFF6FB"]}, "legend": null}
        }
      },
      {
        "data": {"name": "boxes"},
        "transform": [{"filter": "datum.panel === 'B'"}, {"calculate": "indexof(['female:male','female:juvenile','male:juvenile'], datum.pair) + 1 + (datum.side === 'left' ? -0.2 : 0.2)", "as": "xc"}, {"calculate": "datum.xc - 0.19", "as": "x"}, {"calculate": "datum.xc + 0.19", "as": "xr"}, {"calculate": "datum.med", "as": "y"}],
        "mark": {"type": "rule", "color": "#2B3436", "strokeWidth": 4.5},
        "encoding": {"x2": {"field": "xr"}}
      },
      {
        "data": {"name": "points"},
        "transform": [{"filter": "datum.panel === 'B'"}, {"calculate": "indexof(['female:male','female:juvenile','male:juvenile'], datum.pair) + 1 + (datum.side === 'left' ? -0.2 : 0.2) + datum.jitter", "as": "x"}, {"calculate": "datum.value", "as": "y"}],
        "mark": {"type": "point", "shape": "circle", "filled": false, "strokeWidth": 1.6, "size": 70, "opacity": 1},
        "encoding": {
          "stroke": {"field": "cue", "type": "nominal", "scale": {"domain": ["female", "male", "juvenile"], "range": ["#1B4E56", "#24646E", "#A2C3C8"]}, "legend": null}
        }
      },
      {
        "data": {"name": "means"},
        "transform": [{"filter": "datum.panel === 'B'"}, {"calculate": "indexof(['female:male','female:juvenile','male:juvenile'], datum.pair) + 1 + (datum.side === 'left' ? -0.2 : 0.2)", "as": "x"}, {"calculate": "datum.lo", "as": "y"}],
        "mark": {"type": "rule", "color": "#F5A300", "strokeWidth": 2.5},
        "encoding": {"y2": {"field": "hi"}}
      },
      {
        "data": {"name": "means"},
        "transform": [{"filter": "datum.panel === 'B'"}, {"calculate": "indexof(['female:male','female:juvenile','male:juvenile'], datum.pair) + 1 + (datum.side === 'left' ? -0.2 : 0.2)", "as": "x"}, {"calculate": "datum.mean", "as": "y"}],
        "mark": {"type": "point", "shape": "circle", "filled": true, "color": "#F5A300", "size": 150, "opacity": 1},
        "encoding": {}
      },
      {
        "data": {"name": "sig"},
        "transform": [{"filter": "datum.panel === 'B'"}, {"calculate": "indexof(['female:male','female:juvenile','male:juvenile'], datum.pair) + 1", "as": "xc"}, {"calculate": "datum.xc - 0.195", "as": "x"}, {"calculate": "datum.xc + 0.195", "as": "xr"}, {"calculate": "datum.y_bar", "as": "y"}],
        "mark": {"type": "rule", "color": "#000000", "strokeWidth": 3, "strokeCap": "round"},
        "encoding": {"x2": {"field": "xr"}}
      },
      {
        "data": {"name": "sig"},
        "transform": [{"filter": "datum.panel === 'B'"}, {"calculate": "indexof(['female:male','female:juvenile','male:juvenile'], datum.pair) + 1 - 0.195", "as": "x"}, {"calculate": "datum.y_tip", "as": "y"}],
        "mark": {"type": "rule", "color": "#000000", "strokeWidth": 3, "strokeCap": "round"},
        "encoding": {"y2": {"field": "y_bar"}}
      },
      {
        "data": {"name": "sig"},
        "transform": [{"filter": "datum.panel === 'B'"}, {"calculate": "indexof(['female:male','female:juvenile','male:juvenile'], datum.pair) + 1 + 0.195", "as": "x"}, {"calculate": "datum.y_tip", "as": "y"}],
        "mark": {"type": "rule", "color": "#000000", "strokeWidth": 3, "strokeCap": "round"},
        "encoding": {"y2": {"field": "y_bar"}}
      },
      {
        "data": {"name": "sig"},
        "transform": [{"filter": "datum.panel === 'B'"}, {"calculate": "indexof(['female:male','female:juvenile','male:juvenile'], datum.pair) + 1", "as": "x"}, {"calculate": "datum.y_bar", "as": "y"}],
        "mark": {"type": "rule", "color": "#000000", "strokeWidth": 3, "strokeCap": "round"},
        "encoding": {"y2": {"field": "y_peak"}}
      },
      {
        "data": {"name": "sig"},
        "transform": [{"filter": "datum.panel === 'B'"}, {"calculate": "indexof(['female:male','female:juvenile','male:juvenile'], datum.pair) + 1", "as": "x"}, {"calculate": "datum.y_label", "as": "y"}],
        "mark": {"type": "text", "font": "DejaVu Sans", "fontSize": 41, "align": "center", "baseline": "alphabetic", "color": "#000000"},
        "encoding": {"text": {"field": "label"}}
      },
      {
        "data": {"name": "tags"},
        "transform": [{"filter": "datum.panel === 'B'"}, {"calculate": "-0.146", "as": "x"}, {"calculate": "1.215", "as": "y"}],
        "mark": {"type": "text", "font": "Liberation Sans", "fontSize": 44, "fontWeight": "bold", "align": "left", "baseline": "alphabetic", "fill": "#000000", "clip": false},
        "encoding": {"text": {"field": "label", "type": "nominal"}}
      }
    ]
  }
]
}
